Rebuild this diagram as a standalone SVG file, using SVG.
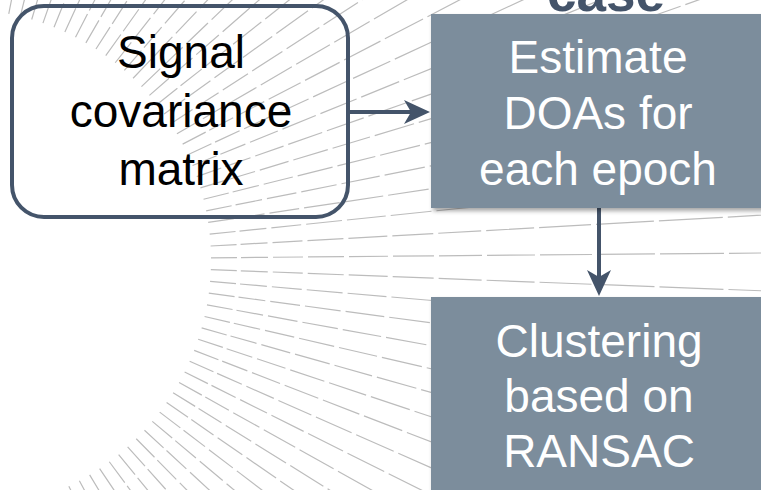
<svg xmlns="http://www.w3.org/2000/svg" xmlns:xlink="http://www.w3.org/1999/xlink" width="761" height="490" viewBox="0 0 761 490">
<style>
.ray{fill:none;stroke:#bcbcbc;stroke-width:1.2}
.lbl{font-family:"Liberation Sans",Arial,sans-serif;font-size:46px;text-anchor:middle}
.dark{fill:#000}
.white{fill:#fff}
.box{fill:#7b8d9c}
.conn{stroke:#44546a;stroke-width:4;fill:none}
</style>
<defs>
<path id="ray" class="ray" d="M251 0H277M281 0H308M313 0H343M348 0H384M389 0H428M433 0H474M479 0H522M527 0H575M580 0H632M637 0H695M700 0H764M769 0H840M845 0H923"/>
<marker id="ah" viewBox="0 0 26 26" refX="7" refY="13" markerWidth="26" markerHeight="26" markerUnits="userSpaceOnUse" orient="auto">
<path d="M0,1 L26,13 L0,25 L7,13 z" fill="#44546a"/>
</marker>
<filter id="sh" x="-10%" y="-10%" width="130%" height="130%">
<feDropShadow dx="2" dy="3" stdDeviation="2" flood-color="#000" flood-opacity="0.35"/>
</filter>
</defs>
<rect width="761" height="490" fill="#fff"/>
<g id="background" transform="translate(-40,260)">
<use xlink:href="#ray" transform="rotate(-89.6)"/>
<use xlink:href="#ray" transform="rotate(-86.9)"/>
<use xlink:href="#ray" transform="rotate(-84.2)"/>
<use xlink:href="#ray" transform="rotate(-81.5)"/>
<use xlink:href="#ray" transform="rotate(-78.8)"/>
<use xlink:href="#ray" transform="rotate(-76.1)"/>
<use xlink:href="#ray" transform="rotate(-73.4)"/>
<use xlink:href="#ray" transform="rotate(-70.7)"/>
<use xlink:href="#ray" transform="rotate(-68.0)"/>
<use xlink:href="#ray" transform="rotate(-65.3)"/>
<use xlink:href="#ray" transform="rotate(-62.6)"/>
<use xlink:href="#ray" transform="rotate(-59.9)"/>
<use xlink:href="#ray" transform="rotate(-57.2)"/>
<use xlink:href="#ray" transform="rotate(-54.5)"/>
<use xlink:href="#ray" transform="rotate(-51.8)"/>
<use xlink:href="#ray" transform="rotate(-49.1)"/>
<use xlink:href="#ray" transform="rotate(-46.4)"/>
<use xlink:href="#ray" transform="rotate(-43.7)"/>
<use xlink:href="#ray" transform="rotate(-41.0)"/>
<use xlink:href="#ray" transform="rotate(-38.3)"/>
<use xlink:href="#ray" transform="rotate(-35.6)"/>
<use xlink:href="#ray" transform="rotate(-32.9)"/>
<use xlink:href="#ray" transform="rotate(-30.2)"/>
<use xlink:href="#ray" transform="rotate(-27.5)"/>
<use xlink:href="#ray" transform="rotate(-24.8)"/>
<use xlink:href="#ray" transform="rotate(-22.1)"/>
<use xlink:href="#ray" transform="rotate(-19.4)"/>
<use xlink:href="#ray" transform="rotate(-16.7)"/>
<use xlink:href="#ray" transform="rotate(-14.0)"/>
<use xlink:href="#ray" transform="rotate(-11.3)"/>
<use xlink:href="#ray" transform="rotate(-8.6)"/>
<use xlink:href="#ray" transform="rotate(-5.9)"/>
<use xlink:href="#ray" transform="rotate(-3.2)"/>
<use xlink:href="#ray" transform="rotate(-0.5)"/>
<use xlink:href="#ray" transform="rotate(2.2)"/>
<use xlink:href="#ray" transform="rotate(4.9)"/>
<use xlink:href="#ray" transform="rotate(7.6)"/>
<use xlink:href="#ray" transform="rotate(10.3)"/>
<use xlink:href="#ray" transform="rotate(13.0)"/>
<use xlink:href="#ray" transform="rotate(15.7)"/>
<use xlink:href="#ray" transform="rotate(18.4)"/>
<use xlink:href="#ray" transform="rotate(21.1)"/>
<use xlink:href="#ray" transform="rotate(23.8)"/>
<use xlink:href="#ray" transform="rotate(26.5)"/>
<use xlink:href="#ray" transform="rotate(29.2)"/>
<use xlink:href="#ray" transform="rotate(31.9)"/>
<use xlink:href="#ray" transform="rotate(34.6)"/>
<use xlink:href="#ray" transform="rotate(37.3)"/>
<use xlink:href="#ray" transform="rotate(40.0)"/>
<use xlink:href="#ray" transform="rotate(42.7)"/>
<use xlink:href="#ray" transform="rotate(45.4)"/>
<use xlink:href="#ray" transform="rotate(48.1)"/>
<use xlink:href="#ray" transform="rotate(50.8)"/>
<use xlink:href="#ray" transform="rotate(53.5)"/>
<use xlink:href="#ray" transform="rotate(56.2)"/>
<use xlink:href="#ray" transform="rotate(58.9)"/>
<use xlink:href="#ray" transform="rotate(61.6)"/>
<use xlink:href="#ray" transform="rotate(64.3)"/>
<use xlink:href="#ray" transform="rotate(67.0)"/>
<use xlink:href="#ray" transform="rotate(69.7)"/>
<use xlink:href="#ray" transform="rotate(72.4)"/>
<use xlink:href="#ray" transform="rotate(75.1)"/>
<use xlink:href="#ray" transform="rotate(77.8)"/>
<use xlink:href="#ray" transform="rotate(80.5)"/>
<use xlink:href="#ray" transform="rotate(83.2)"/>
<use xlink:href="#ray" transform="rotate(85.9)"/>
<use xlink:href="#ray" transform="rotate(88.6)"/>
</g>
<text x="606" y="11" font-family="Liberation Sans,Arial,sans-serif" font-size="53" font-weight="bold" text-anchor="middle" fill="#44546a">case</text>
<g id="connectors">
<line class="conn" x1="348" y1="112" x2="411" y2="112" marker-end="url(#ah)"/>
<line class="conn" x1="599" y1="208" x2="599" y2="277" marker-end="url(#ah)"/>
</g>
<g id="node-signal">
<rect x="12" y="6" width="336" height="211" rx="32" ry="32" fill="none" stroke="#44546a" stroke-width="4"/>
<text class="lbl dark" x="181" y="68">Signal</text>
<text class="lbl dark" x="181" y="127">covariance</text>
<text class="lbl dark" x="181" y="185">matrix</text>
</g>
<g id="node-estimate">
<rect class="box" x="431" y="14" width="340" height="194" filter="url(#sh)"/>
<text class="lbl white" x="598" y="73">Estimate</text>
<text class="lbl white" x="598" y="129">DOAs for</text>
<text class="lbl white" x="598" y="185">each epoch</text>
</g>
<g id="node-clustering">
<rect class="box" x="431" y="297" width="340" height="200" filter="url(#sh)"/>
<text class="lbl white" x="599" y="357">Clustering</text>
<text class="lbl white" x="599" y="412">based on</text>
<text class="lbl white" x="599" y="467">RANSAC</text>
</g>
</svg>
